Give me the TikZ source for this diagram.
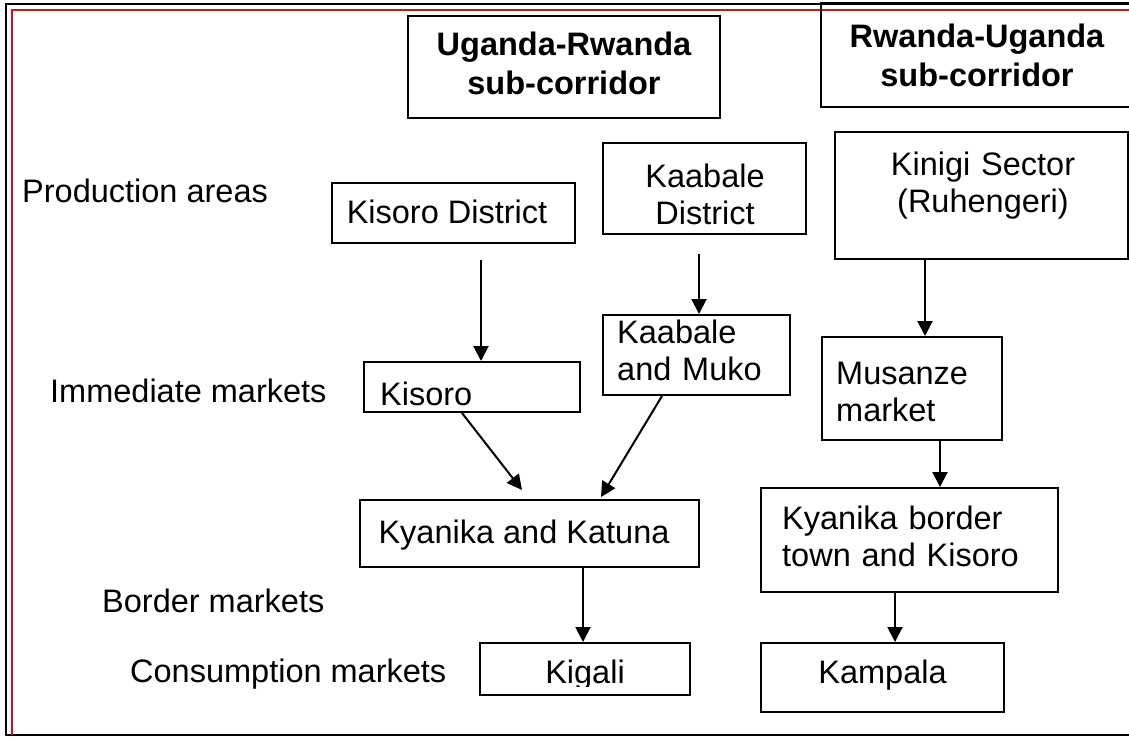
\documentclass[tikz,border=0pt]{standalone}
\usepackage{fontspec}
\setmainfont{Liberation Sans}
\usetikzlibrary{arrows.meta}
\definecolor{framered}{RGB}{200,20,30}
\tikzset{
  box/.style={draw=black, line width=2pt, inner sep=0pt, rectangle},
  txt/.style={inner sep=0pt, font=\fontsize{32.5}{37}\selectfont},
  btxt/.style={inner sep=0pt, font=\fontsize{32.5}{39}\selectfont\bfseries},
  arr/.style={line width=2pt, -{Triangle[width=15pt,length=15pt]}},
}
\begin{document}
\begin{tikzpicture}[x=1pt,y=-1pt]
\useasboundingbox (0,0) rectangle (1129,737);
% frame
\draw[line width=1.6pt] (1135,4) -- (6,4) -- (6,735) -- (1135,735);
\draw[framered, line width=2pt] (1135,9.5) -- (11.5,9.5) -- (11.5,735);

% headers
\node[box, minimum width=312pt, minimum height=102pt] (h1) at (564,67) {};
\node[btxt, text width=300pt, align=center, anchor=base] (h1T) at (564,55) {Uganda-Rwanda\\sub-corridor};
\node[box, minimum width=319pt, minimum height=104pt] (h2) at (980.5,55) {};
\node[btxt, text width=260pt, align=center, anchor=base] (h2T) at (977,47) {Rwanda-Uganda\\sub-corridor};

% left labels
\node[txt, anchor=base west] (lp) at (22,202) {Production areas};
\node[txt, anchor=base west] (li) at (50,402) {Immediate markets};
\node[txt, anchor=base west] (lb) at (102,612) {Border markets};
\node[txt, anchor=base west] (lc) at (130,682) {Consumption markets};

% production areas
\node[box, minimum width=243pt, minimum height=60pt] (kd) at (453.5,213) {};
\node[txt, anchor=base] (kdT) at (447,223) {Kisoro District};
\node[box, minimum width=203pt, minimum height=91pt] (bd) at (704.5,188.5) {};
\node[txt, text width=200pt, align=center, anchor=base] (bdT) at (705,187) {Kaabale\\District};
\node[box, minimum width=293pt, minimum height=127pt] (kn) at (981.5,195.5) {};
\node[txt, text width=280pt, align=center, anchor=base] (knT) at (983,175) {Kinigi Sector\\(Ruhengeri)};

% immediate markets
\node[box, minimum width=216pt, minimum height=50pt] (ki) at (472,387) {};
\node[txt, anchor=base west] (kiT) at (380,405) {Kisoro};
\node[box, minimum width=187pt, minimum height=80pt] (bm) at (696.5,355) {};
\node[txt, text width=180pt, align=left, anchor=base west] (bmT) at (617,343) {Kaabale\\and Muko};
\node[box, minimum width=180pt, minimum height=103pt] (mu) at (912,388.5) {};
\node[txt, text width=170pt, align=left, anchor=base west] (muT) at (836,384) {Musanze\\market};

% border markets
\node[box, minimum width=339pt, minimum height=67pt] (kk) at (529.5,533.5) {};
\node[txt, anchor=base] (kkT) at (524,543) {Kyanika and Katuna};
\node[box, minimum width=297pt, minimum height=104pt] (kb) at (909.5,540) {};
\node[txt, text width=280pt, align=left, anchor=base west] (kbT) at (782,529) {Kyanika border\\town and Kisoro};

% consumption markets
\node[box, minimum width=210pt, minimum height=52pt] (kg) at (585,669) {};
\begin{scope}
  \clip (480,643) rectangle (690,686);
  \node[txt, anchor=base] (kgT) at (585,683) {Kigali};
\end{scope}
\node[box, minimum width=243pt, minimum height=69pt] (kp) at (882.5,677.5) {};
\node[txt, anchor=base] (kpT) at (882.5,683) {Kampala};

% connectors
\coordinate (s1) at (481,260);
\draw[arr] (s1) -- (s1 |- ki.north);
\coordinate (s2) at (699,254);
\draw[arr] (s2) -- (s2 |- bm.north);
\coordinate (s3) at ([xshift=-56.5pt]kn.south);
\draw[arr] (s3) -- (s3 |- mu.north);
\coordinate (e4) at (522,490);
\draw[arr] ([xshift=-10pt]ki.south) -- (e4);
\coordinate (e5) at (601,497);
\draw[arr] ([xshift=-34.5pt]bm.south) -- (e5);
\coordinate (s6) at ([xshift=28pt]mu.south);
\draw[arr] (s6) -- (s6 |- kb.north);
\coordinate (s7) at ([xshift=53.5pt]kk.south);
\draw[arr] (s7) -- (s7 |- kg.north);
\coordinate (s8) at ([xshift=-14.5pt]kb.south);
\draw[arr] (s8) -- (s8 |- kp.north);
\end{tikzpicture}
\end{document}
